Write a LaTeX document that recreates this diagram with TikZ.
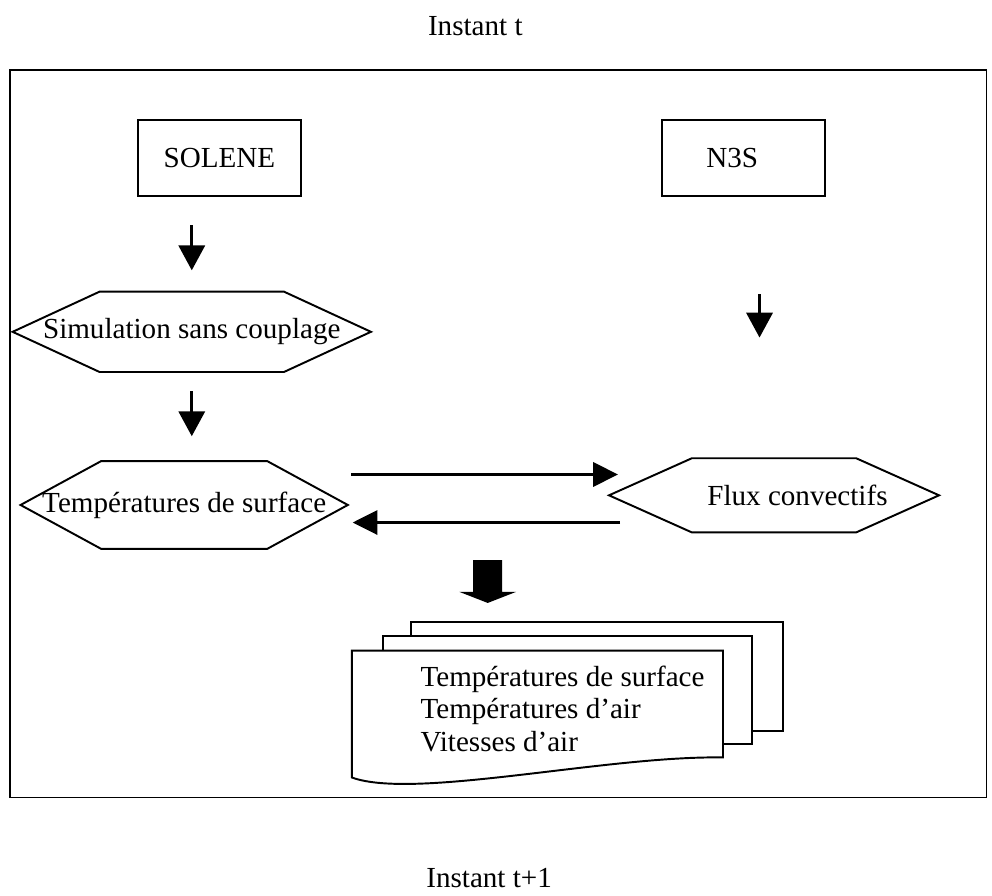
\documentclass[tikz,border=0pt]{standalone}
\usepackage{fontspec}
\setmainfont{Liberation Serif}
\usetikzlibrary{arrows.meta,calc}
\tikzset{
  outerframe/.style={draw=black,line width=0.8pt},
  progbox/.style={draw=black,line width=0.8pt,minimum width=2.36cm,
                  minimum height=1.10cm,inner sep=0pt,
                  font=\fontsize{12}{13.6}\selectfont},
  hexbody/.style={inner sep=0pt,font=\fontsize{12}{13.6}\selectfont},
  hexline/.style={draw=black,line width=0.8pt},
  sheet/.style={draw=black,fill=white,line width=0.8pt},
  downarr/.style={-{Triangle[length=3.6mm,width=3.8mm]},line width=1.1pt},
  linkarr/.style={-{Triangle[length=3.6mm,width=3.5mm]},line width=1.3pt},
  caption/.style={font=\fontsize{12}{13.6}\selectfont,anchor=base}
}

\begin{document}
\begin{tikzpicture}[x=1cm,y=1cm]
    \path[use as bounding box] (0,0) rectangle (14.38,-12.98);
    \node[caption] (tnow) at (6.89,-0.51) {Instant t};
    \node[caption] (tnext) at (7.09,-12.86) {Instant t+1};
    \draw[outerframe] (0.145,-1.015) rectangle (14.30,-11.56);

    \node[progbox] (solene) at (3.18,-2.29) {SOLENE};
    \node[progbox] (n3s) at (10.78,-2.29) {N3S\hspace*{0.33cm}};

    % hexagones
    \node[hexbody,minimum width=5.18cm,minimum height=1.15cm] (sim)
      at (2.78,-4.81) {Simulation sans couplage};
    \draw[hexline] (sim.west) -- ($(sim.north west)+(1.26,0)$)
      -- ($(sim.north east)+(-1.26,0)$) -- (sim.east)
      -- ($(sim.south east)+(-1.26,0)$) -- ($(sim.south west)+(1.26,0)$)
      -- cycle;
    \node[hexbody,minimum width=4.73cm,minimum height=1.26cm] (temp)
      at (2.67,-7.32) {Températures de surface};
    \draw[hexline] (temp.west) -- ($(temp.north west)+(1.17,0)$)
      -- ($(temp.north east)+(-1.17,0)$) -- (temp.east)
      -- ($(temp.south east)+(-1.17,0)$) -- ($(temp.south west)+(1.17,0)$)
      -- cycle;
    \node[hexbody,minimum width=4.77cm,minimum height=1.06cm] (flux)
      at (11.22,-7.18) {\hspace*{0.68cm}Flux convectifs};
    \draw[hexline] (flux.west) -- ($(flux.north west)+(1.20,0)$)
      -- ($(flux.north east)+(-1.20,0)$) -- (flux.east)
      -- ($(flux.south east)+(-1.20,0)$) -- ($(flux.south west)+(1.20,0)$)
      -- cycle;

    \draw[downarr,shorten <=4.1mm,shorten >=3.1mm]
      (solene.south -| sim.north) -- (sim.north);
    \draw[downarr,shorten <=2.8mm,shorten >=3.6mm]
      (sim.south) -- (sim.south |- temp.north);
    \draw[downarr,shorten <=14.1mm,shorten >=17.5mm]
      ([xshift=2.3mm]n3s.south) -- ([xshift=2.3mm]n3s.south |- flux.north);

    \draw[linkarr,shorten <=0.5mm,shorten >=-1.3mm]
      ($(temp.east)+(0,0.442)$) -- ($(temp.east -| flux.west)+(0,0.442)$);
    \draw[linkarr,shorten <=-1.6mm,shorten >=0.7mm]
      ($(temp.east -| flux.west)+(0,-0.254)$) -- ($(temp.east)+(0,-0.254)$);

    % fleche epaisse vers les resultats
    \fill (6.86,-8.12) -- (7.28,-8.12) -- (7.28,-8.58) -- (7.48,-8.58)
      -- (7.07,-8.74) -- (6.66,-8.58) -- (6.86,-8.58) -- cycle;

    % pile de documents
    \draw[sheet] (5.96,-9.02) rectangle (11.35,-10.60);
    \draw[sheet] (5.55,-9.22) rectangle (10.90,-10.79);
    \draw[sheet] (5.10,-9.43) -- (10.48,-9.43) -- (10.48,-10.98)
      .. controls (8.8,-10.95) and (6.0,-11.6) .. (5.10,-11.27) -- cycle;
    \node[anchor=base west,align=left,inner sep=0pt,
          font=\fontsize{12}{13.6}\selectfont] (results) at (6.09,-10.90)
      {Températures de surface\\Températures d’air\\Vitesses d’air};
\end{tikzpicture}
\end{document}
